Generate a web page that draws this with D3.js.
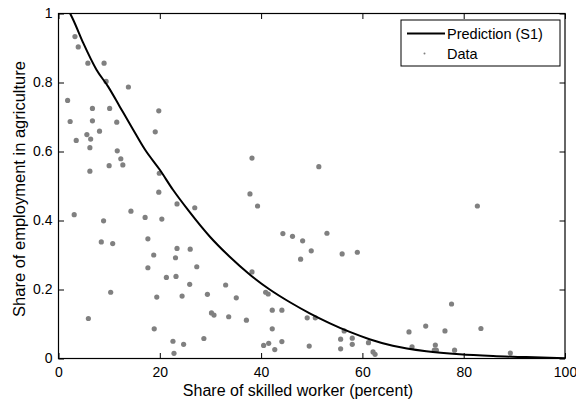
<!DOCTYPE html>
<html>
<head>
<meta charset="utf-8">
<script src="https://cdn.jsdelivr.net/npm/d3@7"></script>
<style>
  body { margin: 0; background: #fff; }
  svg text { font-family: "Liberation Sans", Arial, sans-serif; fill: #000; }
</style>
</head>
<body>
<div id="chart"></div>
<script>
// fitted curve
var predX = [1.0, 2.3, 2.9, 4.9, 7.5, 9.8, 12.1, 14.4, 17.1, 20.0, 22.6, 25.6, 29.9, 33.8, 37.8, 41.7, 45.7, 49.6, 53.6, 57.5, 61.4, 66.0, 72.6, 79.2, 85.8, 92.4, 100];
var predY = [1.04, 1.0, 0.982, 0.914, 0.837, 0.788, 0.730, 0.672, 0.605, 0.547, 0.489, 0.430, 0.353, 0.295, 0.243, 0.200, 0.163, 0.131, 0.102, 0.077, 0.056, 0.037, 0.021, 0.012, 0.007, 0.004, 0.001];

// observations
var dataX = [3.25, 3.9, 5.8, 9.0, 9.4, 13.8, 1.8, 6.7, 10.1, 19.8, 2.3, 6.7, 11.5, 5.6, 8.1, 19.1, 6.35, 3.5, 6.2, 11.6,
  12.3, 12.7, 10.0, 6.2, 19.9, 19.8, 23.4, 26.9, 14.3, 3.1, 17.1, 20.4, 8.9, 17.65, 8.45, 10.7, 23.4, 26.0, 18.8, 23.1,
  17.65, 27.3, 21.3, 23.2, 25.9, 10.3, 19.4, 24.4, 5.9, 18.9, 22.6, 24.7, 22.8, 38.2, 33.0, 29.4, 35.1, 40.9, 41.4, 30.2,
  30.7, 33.6, 37.1, 42.2, 44.1, 49.1, 50.7, 42.2, 28.7, 40.5, 41.5, 44.1, 42.7, 49.5, 56.4, 55.7, 58.0, 58.0, 55.7, 61.2,
  62.1, 62.5, 77.6, 69.2, 72.5, 76.3, 83.4, 69.8, 74.4, 74.2, 74.6, 78.2, 89.2, 82.7, 38.2, 51.4, 37.8, 39.3, 44.3, 46.2,
  48.2, 53.0, 49.9, 47.8, 56.0, 59.0];
var dataY = [0.933, 0.903, 0.856, 0.856, 0.803, 0.787, 0.748, 0.725, 0.725, 0.718, 0.687, 0.689, 0.685, 0.649, 0.659, 0.657, 0.636, 0.632, 0.611, 0.602,
  0.579, 0.561, 0.559, 0.543, 0.537, 0.482, 0.448, 0.437, 0.427, 0.417, 0.409, 0.404, 0.399, 0.347, 0.338, 0.333, 0.319, 0.317, 0.300, 0.292,
  0.263, 0.266, 0.235, 0.238, 0.215, 0.192, 0.178, 0.181, 0.116, 0.086, 0.050, 0.041, 0.015, 0.251, 0.213, 0.186, 0.176, 0.192, 0.187, 0.132,
  0.126, 0.121, 0.111, 0.140, 0.140, 0.118, 0.118, 0.086, 0.058, 0.038, 0.044, 0.049, 0.026, 0.036, 0.080, 0.056, 0.059, 0.041, 0.028, 0.046,
  0.019, 0.012, 0.158, 0.077, 0.094, 0.080, 0.087, 0.034, 0.039, 0.024, 0.024, 0.024, 0.016, 0.442, 0.581, 0.556, 0.477, 0.442, 0.362, 0.354,
  0.341, 0.363, 0.312, 0.288, 0.303, 0.308];

var xTicks = [0, 20, 40, 60, 80, 100];
var yTicks = [0, 0.2, 0.4, 0.6, 0.8, 1];
var yTickLabels = ['0', '0.2', '0.4', '0.6', '0.8', '1'];
var xTitle = 'Share of skilled worker (percent)';
var yTitle = 'Share of employment in agriculture';
var legendNames = ['Prediction (S1)', 'Data'];

var width = 576, height = 400;
var margin = { top: 13.5, right: 11, bottom: 41.5, left: 58.5 };
var chartWidth = width - margin.left - margin.right;
var chartHeight = height - margin.top - margin.bottom;

var x = d3.scaleLinear().domain([0, 100]).range([0, chartWidth]);
var y = d3.scaleLinear().domain([0, 1]).range([chartHeight, 0]);

var svg = d3.select('#chart').append('svg')
  .attr('width', width)
  .attr('height', height);

svg.append('defs').append('clipPath').attr('id', 'plotClip')
  .append('rect')
  .attr('width', chartWidth)
  .attr('height', chartHeight);

var chart = svg.append('g')
  .attr('transform', `translate(${margin.left}, ${margin.top})`);

// points
chart.append('g')
  .selectAll('circle')
  .data(dataX.map((d, i) => [d, dataY[i]]))
  .join('circle')
  .attr('cx', d => x(d[0]))
  .attr('cy', d => y(d[1]))
  .attr('r', 2.6)
  .attr('fill', '#808080');

// prediction line
var line = d3.line()
  .x(d => x(d[0]))
  .y(d => y(d[1]))
  .curve(d3.curveMonotoneX);

chart.append('path')
  .datum(predX.map((d, i) => [d, predY[i]]))
  .attr('clip-path', 'url(#plotClip)')
  .attr('fill', 'none')
  .attr('stroke', '#000')
  .attr('stroke-width', 2)
  .attr('d', line);

// axes, ticks pointing inwards on all four sides
var fmtY = (d, i) => yTickLabels[i];

chart.append('g')
  .attr('transform', `translate(0, ${chartHeight})`)
  .call(d3.axisBottom(x).tickValues(xTicks).tickSizeInner(-5.5).tickSizeOuter(0).tickPadding(8))
  .call(g => g.selectAll('text').attr('font-size', 14).attr('dy', '0.76em'));

chart.append('g')
  .call(d3.axisTop(x).tickValues(xTicks).tickSizeInner(-5.5).tickSizeOuter(0).tickFormat(''));

chart.append('g')
  .call(d3.axisLeft(y).tickValues(yTicks).tickSizeInner(-5.5).tickSizeOuter(0).tickPadding(6).tickFormat(fmtY))
  .call(g => g.selectAll('text').attr('font-size', 14));

chart.append('g')
  .attr('transform', `translate(${chartWidth}, 0)`)
  .call(d3.axisRight(y).tickValues(yTicks).tickSizeInner(-5.5).tickSizeOuter(0).tickFormat(''));

chart.selectAll('.domain').remove();
chart.selectAll('.tick line').attr('stroke', '#000');

chart.append('rect')
  .attr('width', chartWidth)
  .attr('height', chartHeight)
  .attr('fill', 'none')
  .attr('stroke', '#000')
  .attr('stroke-width', 1.2);

// titles
svg.append('text')
  .attr('x', 298)
  .attr('y', 396)
  .attr('text-anchor', 'middle')
  .attr('font-size', 16)
  .text(xTitle);

svg.append('text')
  .attr('transform', 'translate(25, 189) rotate(-90)')
  .attr('text-anchor', 'middle')
  .attr('font-size', 16.5)
  .text(yTitle);

// legend
var legend = svg.append('g').attr('transform', 'translate(401, 20)');

legend.append('rect')
  .attr('width', 159)
  .attr('height', 46)
  .attr('fill', '#fff')
  .attr('stroke', '#000')
  .attr('stroke-width', 1);

legend.append('line')
  .attr('x1', 6).attr('x2', 44)
  .attr('y1', 13.5).attr('y2', 13.5)
  .attr('stroke', '#000')
  .attr('stroke-width', 2);

legend.append('circle')
  .attr('cx', 23.5)
  .attr('cy', 33.5)
  .attr('r', 1)
  .attr('fill', '#808080');

legend.selectAll('text.name')
  .data(legendNames)
  .join('text')
  .attr('class', 'name')
  .attr('x', 46)
  .attr('y', (d, i) => 18.5 + i * 20.5)
  .attr('font-size', 14.5)
  .text(d => d);
</script>
</body>
</html>
